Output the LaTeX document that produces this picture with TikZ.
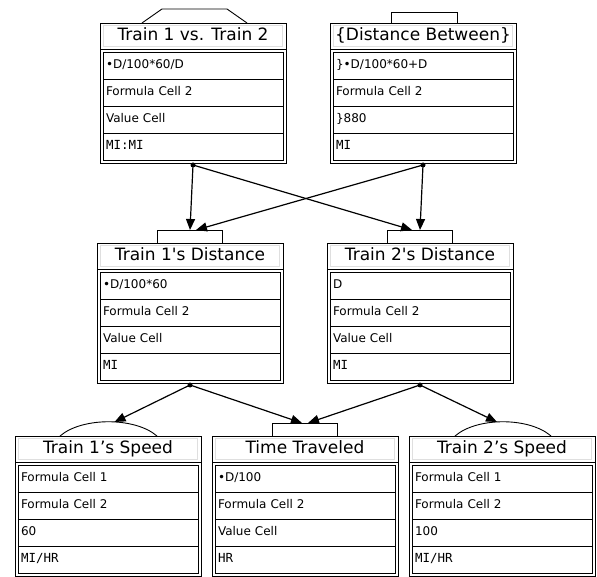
\documentclass[tikz,border=0pt]{standalone}
\usepackage{fontspec}
\setmainfont{DejaVu Sans}[Ligatures=TeXOff]
\newfontfamily\monofont{DejaVu Sans Mono}
\usepackage{tikz}
\usetikzlibrary{positioning,arrows.meta}
\newcommand{\unitstr}[1]{{\monofont\fontsize{12.5}{14}\selectfont #1}}
% one card: name, corner, title, four cells
\newcommand{\card}[7]{%
  \node[cardframe] (#1) at (#2) {};
  \node[cardtitle, below right=2.5pt and 3.5pt of #1.north west] (#1-t) {#3};
  \node[cardcell, below right=29pt and 3pt of #1.north west] (#1-1) {#4};
  \node[cardcell, below=0pt of #1-1] (#1-2) {#5};
  \node[cardcell, below=0pt of #1-2] (#1-3) {#6};
  \node[cardcell, below=0pt of #1-3] (#1-4) {#7};
  \draw[line width=0.9pt] ([yshift=-26pt]#1.north west) -- ([yshift=-26pt]#1.north east);
}
\tikzset{
  cardframe/.style={draw, line width=0.9pt, anchor=north west, minimum width=186pt,
    minimum height=140pt, inner sep=0pt, outer sep=0pt},
  cardtitle/.style={draw=gray!90, double=gray!25, double distance=0.8pt, line width=0.5pt,
    minimum width=179pt, minimum height=21pt, inner sep=0pt, outer sep=0pt,
    text height=12.5pt, text depth=3.5pt, font=\fontsize{17}{19}\selectfont},
  cardcell/.style={draw, line width=0.9pt, minimum height=27pt, text width=174pt,
    inner xsep=3pt, inner ysep=0pt, outer sep=0pt, align=left,
    text height=9pt, text depth=2.5pt, font=\fontsize{12}{14}\selectfont},
  tab/.style={line width=0.9pt},
  dot/.style={circle, fill, inner sep=0pt, minimum size=5pt},
  arr/.style={-{Triangle[length=11pt,width=9pt]}, line width=1.2pt}
}
\begin{document}
\begin{tikzpicture}[x=1pt,y=-1pt]
  \useasboundingbox (0,0) rectangle (597,577);
  % cards
  \card{vs}{100,23}{Train 1 vs. Train 2}{•D/100*60/D}{Formula Cell 2}{Value Cell}{\unitstr{MI:MI}}
  \card{db}{330,23}{\{Distance Between\}}{\}•D/100*60+D}{Formula Cell 2}{\}880}{\unitstr{MI}}
  \card{d1}{97,243}{Train 1's Distance}{•D/100*60}{Formula Cell 2}{Value Cell}{\unitstr{MI}}
  \card{d2}{327,243}{Train 2's Distance}{D}{Formula Cell 2}{Value Cell}{\unitstr{MI}}
  \card{s1}{15,436}{Train 1’s Speed}{Formula Cell 1}{Formula Cell 2}{60}{\unitstr{MI/HR}}
  \card{tv}{212,436}{Time Traveled}{•D/100}{Formula Cell 2}{Value Cell}{\unitstr{HR}}
  \card{s2}{409,436}{Train 2’s Speed}{Formula Cell 1}{Formula Cell 2}{100}{\unitstr{MI/HR}}

  % tabs on top of the cards
  \draw[tab] ([xshift=42pt]vs.north west) -- ([xshift=62pt,yshift=14pt]vs.north west)
    -- ([xshift=127pt,yshift=14pt]vs.north west) -- ([xshift=147pt]vs.north west);
  \draw[tab] ([xshift=61pt]db.north west) |- ([xshift=127pt,yshift=11pt]db.north west)
    -- ([xshift=127pt]db.north west);
  \draw[tab] ([xshift=60pt]d1.north west) |- ([xshift=125pt,yshift=13pt]d1.north west)
    -- ([xshift=125pt]d1.north west);
  \draw[tab] ([xshift=60pt]d2.north west) |- ([xshift=125pt,yshift=13pt]d2.north west)
    -- ([xshift=125pt]d2.north west);
  \draw[tab] ([xshift=60pt]tv.north west) |- ([xshift=125pt,yshift=13pt]tv.north west)
    -- ([xshift=125pt]tv.north west);
  \draw[tab] ([xshift=45pt]s1.north west) .. controls +(22,-19) and +(-22,-19) .. ([xshift=142pt]s1.north west);
  \draw[tab] ([xshift=46pt]s2.north west) .. controls +(22,-19) and +(-22,-19) .. ([xshift=142pt]s2.north west);

  % outputs and inputs
  \node[dot] (vs-o) at ([yshift=-2pt]vs.south) {};
  \node[dot] (db-o) at ([yshift=-2pt]db.south) {};
  \node[dot] (d1-o) at ([yshift=-2pt]d1.south) {};
  \node[dot] (d2-o) at ([yshift=-2pt]d2.south) {};
  \coordinate (d1-a) at ([yshift=13pt]d1.north);
  \coordinate (d1-b) at ([xshift=6pt,yshift=13pt]d1.north);
  \coordinate (d2-a) at ([xshift=-8pt,yshift=13pt]d2.north);
  \coordinate (d2-b) at ([yshift=13pt]d2.north);
  \coordinate (s1-a) at ([xshift=6.5pt,yshift=14pt]s1.north);
  \coordinate (tv-a) at ([xshift=-3pt,yshift=13pt]tv.north);
  \coordinate (tv-b) at ([xshift=3pt,yshift=13pt]tv.north);
  \coordinate (s2-a) at ([xshift=-5pt,yshift=14pt]s2.north);

  \draw[arr] (vs-o.center) -- (d1-a);
  \draw[arr] (vs-o.center) -- (d2-a);
  \draw[arr] (db-o.center) -- (d2-b);
  \draw[arr] (db-o.center) -- (d1-b);
  \draw[arr] (d1-o.center) -- (s1-a);
  \draw[arr] (d1-o.center) -- (tv-a);
  \draw[arr] (d2-o.center) -- (tv-b);
  \draw[arr] (d2-o.center) -- (s2-a);
\end{tikzpicture}
\end{document}
